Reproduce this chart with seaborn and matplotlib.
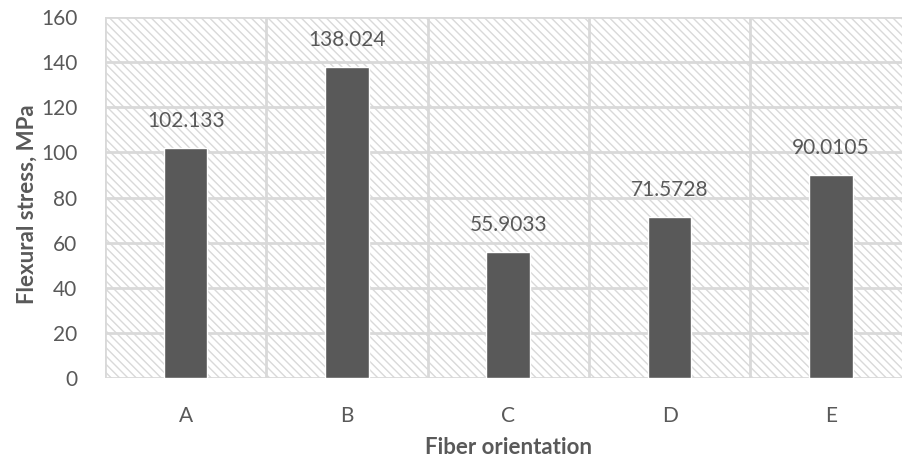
import matplotlib
matplotlib.use("Agg")
import matplotlib.pyplot as plt
import seaborn as sns
import pandas as pd

categories = ["A", "B", "C", "D", "E"]
values = [102.133, 138.024, 55.9033, 71.5728, 90.0105]
value_labels = ["102.133", "138.024", "55.9033", "71.5728", "90.0105"]
y_ticks = [0, 20, 40, 60, 80, 100, 120, 140, 160]

sns.set_theme(style="white")
plt.rcParams["font.family"] = ["Lato", "DejaVu Sans"]
plt.rcParams["hatch.color"] = "#d9d9d9"
plt.rcParams["hatch.linewidth"] = 1.0

TXT = "#595959"
GRID = "#d9d9d9"

df = pd.DataFrame({"cat": categories, "val": values})

fig = plt.figure(figsize=(9.03, 4.57), dpi=100)
ax = fig.add_axes([105 / 903, 1 - 378 / 457, 1 - 105 / 903, (378 - 17) / 457])

ax.patch.set_facecolor("white")
ax.patch.set_hatch("\\\\\\\\")
ax.patch.set_edgecolor(GRID)

sns.barplot(data=df, x="cat", y="val", color="#595959", width=0.27,
            saturation=1, ax=ax, zorder=3)

ax.set_xlim(-0.5, 4.447)
ax.set_ylim(0, 160)
ax.set_yticks(y_ticks)

for yv in y_ticks:
    ax.axhline(yv, color=GRID, lw=2, zorder=1)
for xv in [-0.5, 0.5, 1.5, 2.5, 3.5]:
    ax.axvline(xv, color=GRID, lw=2, zorder=1)

for i, (v, lab) in enumerate(zip(values, value_labels)):
    ax.annotate(lab, (i, v), xytext=(0, 12), textcoords="offset points",
                ha="center", va="bottom", fontsize=15, color=TXT, zorder=4)

for s in ax.spines.values():
    s.set_visible(False)

ax.tick_params(axis="both", length=0, labelsize=15, labelcolor=TXT)
ax.tick_params(axis="y", pad=20)
ax.tick_params(axis="x", pad=20)
ax.set_xlabel("Fiber orientation", fontsize=16, fontweight="bold", color=TXT)
ax.set_ylabel("Flexural stress, MPa", fontsize=16, fontweight="bold", color=TXT)
ax.xaxis.set_label_coords((509 - 105) / 798, (378 - 448) / 361)
ax.xaxis.label.set_va("center")
ax.yaxis.set_label_coords((27 - 105) / 798, (378 - 204) / 361)
ax.yaxis.label.set_va("center")

fig.savefig("out.png", dpi=100)
